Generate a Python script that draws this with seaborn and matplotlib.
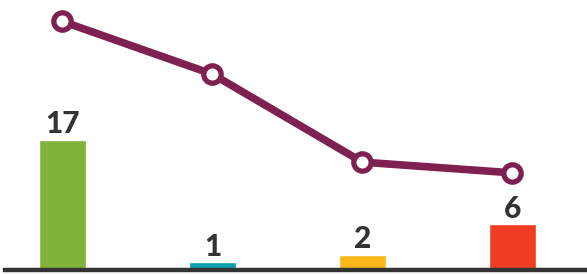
import matplotlib
matplotlib.use("Agg")
import matplotlib.pyplot as plt
import seaborn as sns
import pandas as pd

# data
categories = ["A", "B", "C", "D"]
counts = [17, 1, 2, 6]
trend = [32.5, 25.6, 14.1, 12.7]
bar_colors = ["#80b338", "#0aa0ae", "#fbb718", "#f03c23"]

df = pd.DataFrame({"cat": categories, "count": counts, "trend": trend})

sns.set_style("white")
plt.rcParams["font.family"] = ["Lato", "DejaVu Sans"]

fig = plt.figure(figsize=(5.87, 2.74), dpi=100)
ax = fig.add_axes([5 / 587, 4 / 274, 1 - 5 / 587, 1 - 4 / 274])

sns.barplot(data=df, x="cat", y="count", hue="cat", palette=bar_colors,
            width=0.313, saturation=1, legend=False, ax=ax)

# trend line with hollow markers
ax.plot(range(len(trend)), df["trend"], color="#7f2150", lw=5.5,
        marker="o", ms=12.5, mfc="white", mec="#7f2150", mew=3.8,
        solid_capstyle="round", zorder=3)

# value labels on bars
for i, v in enumerate(counts):
    ax.text(i, v + 0.2, str(v), ha="center", va="bottom",
            fontsize=21.5, fontweight="black", color="#333333")

ax.set_xlim(-0.383, 3.497)
ax.set_ylim(0, 35.3)
ax.set_xticks([])
ax.set_yticks([])
ax.set_xlabel("")
ax.set_ylabel("")
for s in ["top", "right", "left"]:
    ax.spines[s].set_visible(False)
ax.spines["bottom"].set_color("#333333")
ax.spines["bottom"].set_linewidth(3.2)

fig.savefig("out.png", dpi=100, facecolor="white")
